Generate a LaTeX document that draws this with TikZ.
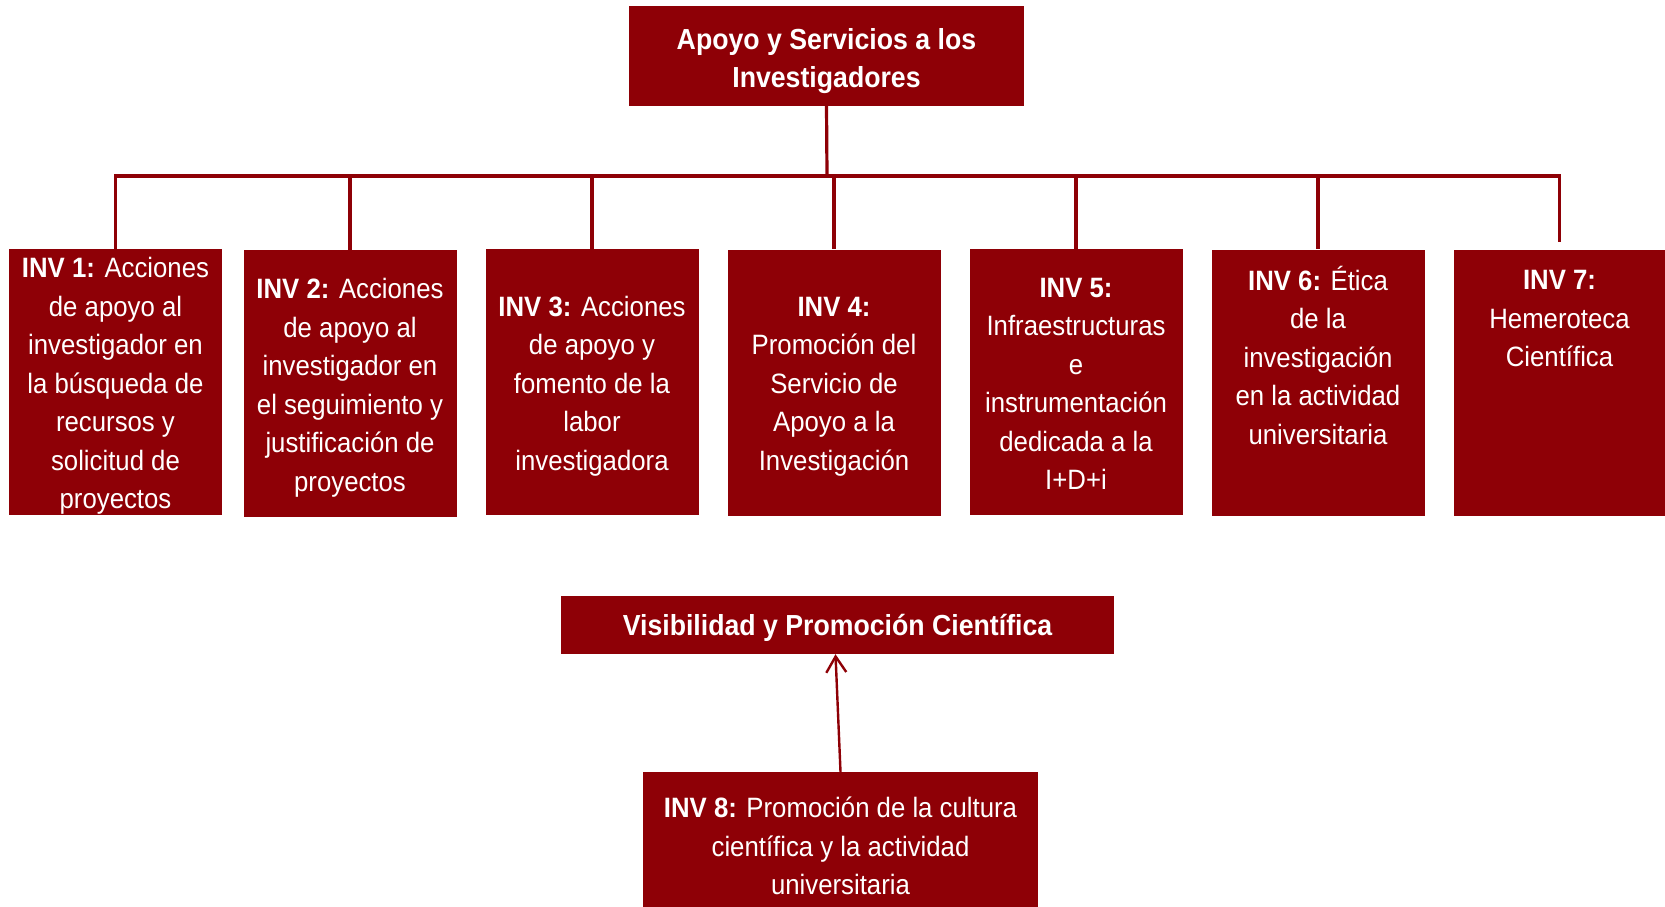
\documentclass[tikz,border=0pt]{standalone}
\usepackage{fontspec}
\setmainfont[FakeStretch=0.92]{Liberation Sans}
\usetikzlibrary{arrows.meta}
\definecolor{inv}{RGB}{142,0,6}
\begin{document}
\begin{tikzpicture}[x=1pt,y=-1pt,
  box/.style={fill=inv, draw=none, text=white, align=center, inner sep=0pt,
    font=\fontsize{28}{38.5}\selectfont},
  colbox/.style={box, minimum width=213pt, minimum height=266pt},
  txt/.style={text=white, align=center, inner sep=0pt, font=\fontsize{28}{38.5}\selectfont},
  link/.style={draw=inv, line width=3.2pt, line join=miter}]
\useasboundingbox (0,0) rectangle (1665,907);

\node[box, minimum width=395pt, minimum height=99pt] (top) at (826.5,56) {};
\node[txt, font=\bfseries\fontsize{29}{38}\selectfont] (ttop) at (826.5,61)
  {Apoyo y Servicios a los\\Investigadores};

\node[colbox] (b1) at (115.5,382) {};
\node[colbox, minimum height=267pt] (b2) at (350,383.5) {};
\node[colbox] (b3) at (592,382) {};
\node[colbox] (b4) at (834,382.5) {};
\node[colbox] (b5) at (1076,382) {};
\node[colbox] (b6) at (1318,382.5) {};
\node[colbox, minimum width=211pt] (b7) at (1559.5,382.5) {};

\node[txt] (t1) at (115.5,386) {\textbf{INV 1:} Acciones\\de apoyo al\\investigador en\\la búsqueda de\\recursos y\\solicitud de\\proyectos};
\node[txt] (t2) at (350,388) {\textbf{INV 2:} Acciones\\de apoyo al\\investigador en\\el seguimiento y\\justificación de\\proyectos};
\node[txt] (t3) at (592,386) {\textbf{INV 3:} Acciones\\de apoyo y\\fomento de la\\labor\\investigadora};
\node[txt] (t4) at (834,386.5) {\textbf{INV 4:}\\Promoción del\\Servicio de\\Apoyo a la\\Investigación};
\node[txt] (t5) at (1076,384) {\textbf{INV 5:}\\Infraestructuras\\e\\instrumentación\\dedicada a la\\I+D+i};
\node[txt] (t6) at (1318,355) {\textbf{INV 6:} Ética\\de la\\investigación\\en la actividad\\universitaria};
\node[txt] (t7) at (1559.5,319) {\textbf{INV 7:}\\Hemeroteca\\Científica};

\coordinate (bus) at (827,176);
\draw[link] (top.south) -- (bus);
\draw[link] (bus) -| (b1.north);
\draw[link] (bus) -| (b2.north);
\draw[link] (bus) -| (b3.north);
\draw[link] (bus) -| (b4.north);
\draw[link] (bus) -| (b5.north);
\draw[link] (bus) -| (b6.north);
\draw[link, shorten >=7pt] (bus) -| (b7.north);

\node[box, minimum width=553pt, minimum height=58pt] (vis) at (837.5,625) {};
\node[txt, font=\bfseries\fontsize{29}{38}\selectfont] (tvis) at (837.5,628)
  {Visibilidad y Promoción Científica};
\node[box, minimum width=395pt, minimum height=145pt] (inv8) at (840.5,844.5) {};
\node[txt] (t8) at (840.5,846)
  {\textbf{INV 8:} Promoción de la cultura\\científica y la actividad\\universitaria};
\draw[draw=inv, line width=2.4pt, -{Straight Barb[length=16pt,width=20pt,line width=2.4pt]}]
  (inv8.north) -- ([xshift=-2pt]vis.south);
\end{tikzpicture}
\end{document}
